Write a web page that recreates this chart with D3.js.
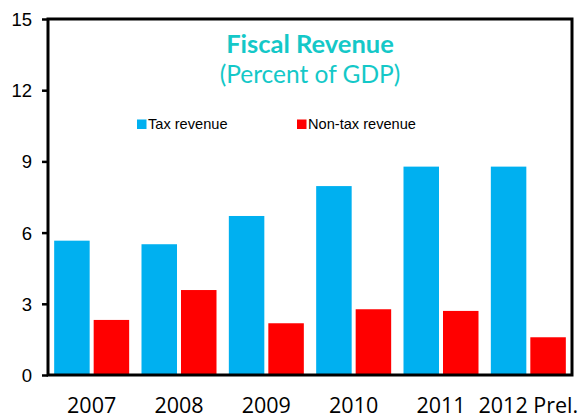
<!DOCTYPE html>
<html>
<head>
<meta charset="utf-8">
<script src="https://cdn.jsdelivr.net/npm/d3@7"></script>
<style>
  html, body { margin: 0; padding: 0; background: #fff; }
  svg { display: block; }
</style>
</head>
<body>
<svg id="chart" width="579" height="418"></svg>
<script>
// Fiscal revenue, percent of GDP
const years = ["2007", "2008", "2009", "2010", "2011", "2012 Prel."];
const taxRevenue = [5.66, 5.51, 6.70, 7.96, 8.78, 8.78];
const nonTaxRevenue = [2.32, 3.58, 2.18, 2.77, 2.70, 1.59];
const seriesNames = ["Tax revenue", "Non-tax revenue"];
const seriesColors = ["#00B0F0", "#FF0000"];
const yTicks = [0, 3, 6, 9, 12, 15];

const svg = d3.select("#chart");
const plot = { left: 48, right: 572, top: 19, bottom: 375 };

const x = d3.scaleBand().domain(years).range([plot.left, plot.right]).padding(0);
const y = d3.scaleLinear().domain([0, 15]).range([plot.bottom, plot.top]);

// bars: two per year, offset inside each band
const barW = 35.5, gap = 4;
const groupW = barW * 2 + gap;
const series = [taxRevenue, nonTaxRevenue];

series.forEach((vals, si) => {
  svg.append("g")
    .selectAll("rect")
    .data(vals)
    .join("rect")
    .attr("x", (d, i) => x(years[i]) + (x.bandwidth() - groupW) / 2 + si * (barW + gap))
    .attr("y", d => y(d))
    .attr("width", barW)
    .attr("height", d => y(0) - y(d))
    .attr("fill", seriesColors[si]);
});

// plot frame
svg.append("rect")
  .attr("x", plot.left).attr("y", plot.top)
  .attr("width", plot.right - plot.left).attr("height", plot.bottom - plot.top)
  .attr("fill", "none").attr("stroke", "#000").attr("stroke-width", 3);

// y axis
const yAxis = d3.axisLeft(y).tickValues(yTicks).tickSize(6).tickPadding(10);
const gy = svg.append("g").attr("transform", `translate(${plot.left},0)`).call(yAxis);
gy.select(".domain").remove();
gy.selectAll(".tick line").attr("stroke", "#000").attr("stroke-width", 2.5);
gy.selectAll(".tick text")
  .attr("font-family", "Liberation Sans, Arial, sans-serif")
  .attr("font-size", 18.5).attr("fill", "#000").attr("dy", "0.35em");

// x axis labels
const xAxis = d3.axisBottom(x).tickSize(0).tickPadding(0);
const gx = svg.append("g").attr("transform", `translate(0,${plot.bottom})`).call(xAxis);
gx.select(".domain").remove();
gx.selectAll(".tick text")
  .attr("y", 37.5).attr("dy", 0)
  .attr("font-family", "Open Sans, sans-serif")
  .attr("font-size", 21.5).attr("fill", "#000");

// title
svg.append("text")
  .attr("x", 310).attr("y", 53)
  .attr("text-anchor", "middle")
  .attr("font-family", "Lato, sans-serif")
  .attr("font-weight", "bold")
  .attr("font-size", 25.5)
  .attr("fill", "#14C8C8")
  .text("Fiscal Revenue");
svg.append("text")
  .attr("x", 310).attr("y", 83)
  .attr("text-anchor", "middle")
  .attr("font-family", "Lato, sans-serif")
  .attr("font-size", 24.5)
  .attr("fill", "#14C8C8")
  .text("(Percent of GDP)");

// legend
const legendX = [137, 297];
const lg = svg.append("g");
seriesNames.forEach((name, i) => {
  lg.append("rect")
    .attr("x", legendX[i]).attr("y", 119.5)
    .attr("width", 9.5).attr("height", 9.5)
    .attr("fill", seriesColors[i]);
  lg.append("text")
    .attr("x", legendX[i] + 11).attr("y", 129)
    .attr("font-family", "Liberation Sans, Arial, sans-serif")
    .attr("font-size", 14.6)
    .attr("fill", "#000")
    .text(name);
});
</script>
</body>
</html>
